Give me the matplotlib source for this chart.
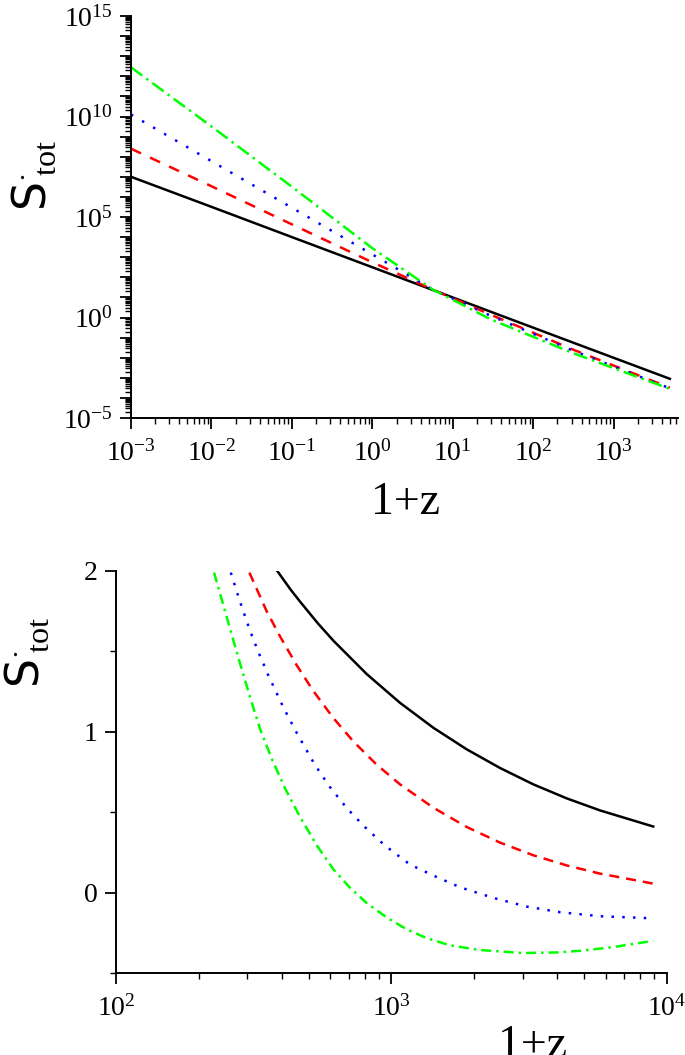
import matplotlib
matplotlib.use('Agg')
import matplotlib.pyplot as plt
from matplotlib.ticker import LogLocator, FuncFormatter, MultipleLocator, NullFormatter
import numpy as np

plt.rcParams['font.family'] = ['Liberation Serif', 'DejaVu Serif']
plt.rcParams['mathtext.fontset'] = 'custom'
plt.rcParams['mathtext.rm'] = 'Liberation Serif'
plt.rcParams['mathtext.it'] = 'Liberation Serif:italic'
plt.rcParams['mathtext.bf'] = 'Liberation Serif:bold'
plt.rcParams['mathtext.sf'] = 'DejaVu Sans'

# ---------------- top panel data (log-log) ----------------
z_top = [1e-3, 1e-2, 1e-1, 1.0, 5.6, 30.0, 300.0, 5000.0]
s_black_top = [1.0e7, 3.2e5, 1.0e4, 316.0, 23.7, 1.9, 0.060, 8.9e-4]
s_red_top = [2.5e8, 3.4e6, 4.3e4, 560.0, 25.0, 1.35, 0.027, 3.2e-4]
s_blue_top = [1.26e10, 6.0e7, 2.9e5, 1380.0, 25.0, 1.2, 0.024, 3.0e-4]
s_green_top = [2.8e12, 3.2e9, 3.2e6, 2800.0, 25.0, 0.79, 0.018, 2.8e-4]

# ---------------- bottom panel data (log-x, linear y) ----------------
z_black = [385, 430, 466, 540, 615, 813, 1074, 1419, 1875, 2477, 3273, 4325, 5715, 8910]
s_black = [2.0, 1.885, 1.809, 1.675, 1.567, 1.359, 1.180, 1.025, 0.891, 0.775, 0.673, 0.586,
           0.511, 0.411]

z_red = [305, 352, 394, 452, 520, 615, 727, 883, 1074, 1419, 1875, 2477, 3273, 4325, 5715, 8910]
s_red = [1.99, 1.751, 1.593, 1.416, 1.254, 1.086, 0.940, 0.796, 0.673, 0.528, 0.408, 0.311,
         0.232, 0.169, 0.118, 0.056]

z_blue = [261, 282, 306, 328, 357, 405, 453, 527, 598, 687, 790, 946, 1166, 1419, 1774,
          2344, 3097, 4093, 5715, 8910]
s_blue = [1.99, 1.808, 1.632, 1.50, 1.352, 1.152, 0.993, 0.795, 0.656, 0.527, 0.417, 0.293,
          0.175, 0.106, 0.033, -0.033, -0.087, -0.122, -0.147, -0.16]

z_green = [227, 245, 263, 282, 306, 333, 368, 411, 466, 535, 615, 707, 813, 961, 1135,
           1340, 1630, 2094, 3006, 4000, 4830, 6300, 8910]
s_green = [1.99, 1.79, 1.605, 1.425, 1.22, 1.02, 0.83, 0.648, 0.469, 0.295, 0.145, 0.03,
           -0.065, -0.155, -0.228, -0.283, -0.328, -0.357, -0.376, -0.372, -0.362, -0.34, -0.30]

top_ylabels = [1e-5, 1e0, 1e5, 1e10, 1e15]
bottom_yticks = [0, 1, 2]

fig = plt.figure(figsize=(6.85, 10.55), dpi=100)

ax1 = fig.add_axes([131/685, 1-418/1055, 547/685, 402/1055])
ax2 = fig.add_axes([116/685, 1-973/1055, 551/685, 402/1055])

lw = 1.8
ax1.plot(z_top, s_black_top, color='black', lw=lw, linestyle='-')
ax1.plot(z_top, s_red_top, color='#ff0000', lw=lw, linestyle=(0, (4.4, 4.0)))
ax1.plot(z_top, s_blue_top, color='#0000ff', lw=lw, linestyle=(0, (1, 4.1)))
ax1.plot(z_top, s_green_top, color='#00ff00', lw=lw, linestyle=(0, (5.6, 2, 1, 2)))

ax1.set_xscale('log')
ax1.set_yscale('log')
ax1.set_xlim(1e-3, 10**3.8)
ax1.set_ylim(1e-5, 1e15)

ax1.xaxis.set_major_locator(LogLocator(base=10, numticks=50))
ax1.xaxis.set_minor_locator(LogLocator(base=10, subs=np.arange(2, 10), numticks=50))
ax1.xaxis.set_minor_formatter(NullFormatter())
ax1.xaxis.set_major_formatter(FuncFormatter(lambda v, p: r'$10^{%d}$' % int(round(np.log10(v)))))

ax1.yaxis.set_major_locator(LogLocator(base=10, numticks=50))
ax1.yaxis.set_minor_locator(LogLocator(base=10, subs=np.arange(2, 10), numticks=50))
ax1.yaxis.set_minor_formatter(NullFormatter())


def ylab(v, p):
    e = int(round(np.log10(v)))
    return r'$10^{%d}$' % e if any(abs(v - t) / t < 1e-6 for t in top_ylabels) else ''


ax1.yaxis.set_major_formatter(FuncFormatter(ylab))

# bottom
ax2.plot(z_black, s_black, color='black', lw=lw, linestyle='-')
ax2.plot(z_red, s_red, color='#ff0000', lw=lw, linestyle=(0, (4, 2.8)))
ax2.plot(z_blue, s_blue, color='#0000ff', lw=lw, linestyle=(0, (1, 3.3)))
ax2.plot(z_green, s_green, color='#00ff00', lw=lw, linestyle=(0, (4, 2, 1, 2)))

ax2.set_xscale('log')
ax2.set_xlim(1e2, 1e4)
ax2.set_ylim(-0.5, 2)
ax2.set_yticks(bottom_yticks)
ax2.yaxis.set_minor_locator(MultipleLocator(0.5))
ax2.xaxis.set_major_locator(LogLocator(base=10, numticks=10))
ax2.xaxis.set_minor_locator(LogLocator(base=10, subs=np.arange(2, 10), numticks=10))
ax2.xaxis.set_minor_formatter(NullFormatter())
ax2.xaxis.set_major_formatter(FuncFormatter(lambda v, p: r'$10^{%d}$' % int(round(np.log10(v)))))

for ax in (ax1, ax2):
    for s in ('top', 'right'):
        ax.spines[s].set_visible(False)
    for s in ('left', 'bottom'):
        ax.spines[s].set_linewidth(1.4)
    ax.tick_params(which='major', direction='out', length=8, width=1.3, labelsize=20, pad=5)
    ax.tick_params(which='minor', direction='out', length=4.5, width=1.0)
ax1.tick_params(axis='x', which='major', pad=8)
ax2.tick_params(axis='x', which='major', pad=8)

ylabel = r'$\mathsf{S}^{\cdot}_{\;\mathrm{tot}}$'
fig.text(34/685, 1-175/1055, ylabel, rotation=90, ha='center', va='center', fontsize=33)
fig.text(27/685, 1-652/1055, ylabel, rotation=90, ha='center', va='center', fontsize=33)

fig.text(405/685, 1-503/1055, '1+z', ha='center', va='center', fontsize=33)
fig.text(532/685, 1-1046/1055, '1+z', ha='center', va='center', fontsize=33)

fig.savefig('out.png', dpi=100)
